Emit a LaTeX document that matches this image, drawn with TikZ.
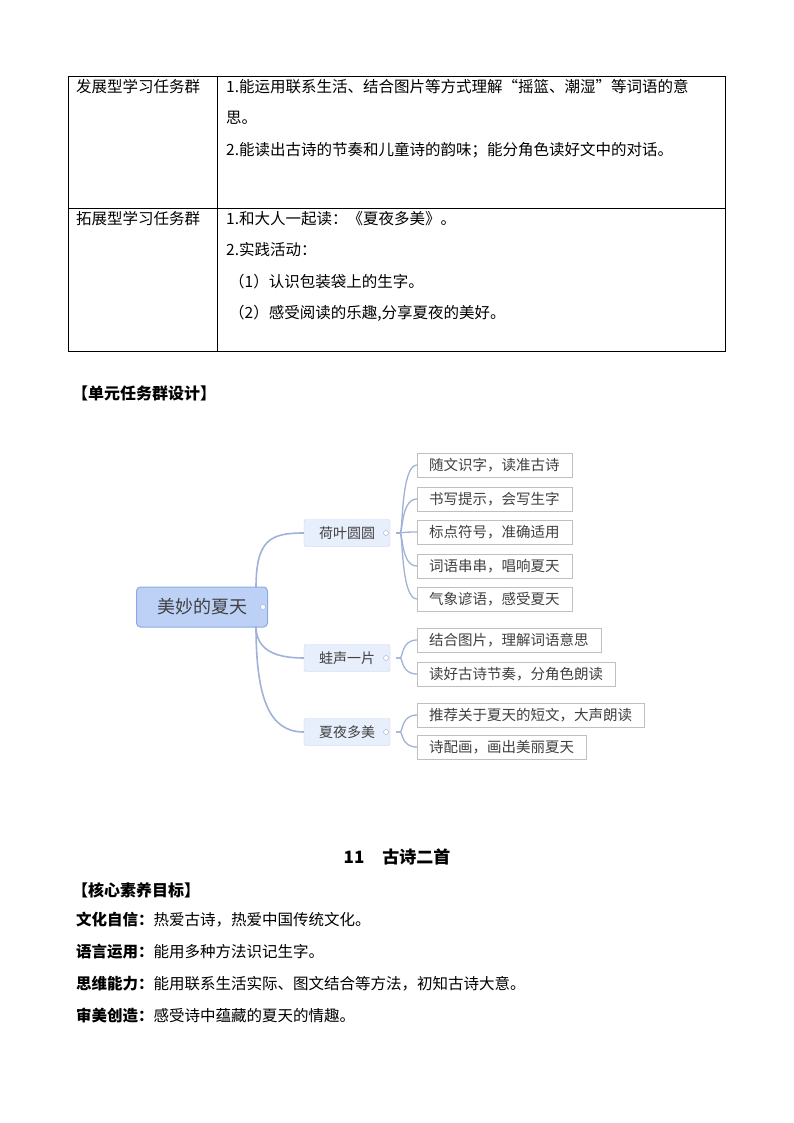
\documentclass[tikz,border=0pt]{standalone}
\usepackage{fontspec}
\setmainfont{Noto Sans CJK SC}
\begin{document}
\begin{tikzpicture}[x=1pt,y=-1pt,
  txt/.style={anchor=west,inner sep=0pt,font=\fontsize{15.5}{16}\selectfont},
  hd/.style={anchor=west,inner sep=0pt,font=\fontsize{16}{16}\selectfont\bfseries},
  central/.style={draw={rgb,255:red,140;green,170;blue,225},line width=1pt,fill={rgb,255:red,189;green,209;blue,247},rounded corners=4pt,minimum width=131,minimum height=40,font=\fontsize{18}{18}\selectfont,text=black!75,inner sep=0pt},
  branch/.style={draw={rgb,255:red,196;green,210;blue,238},fill={rgb,255:red,232;green,239;blue,252},rounded corners=2pt,minimum width=86,minimum height=27,font=\fontsize{14}{14}\selectfont,text=black!75,inner sep=0pt},
  leaf/.style={draw=black!25,fill=white,anchor=west,minimum height=24,inner xsep=12pt,inner ysep=0pt,font=\fontsize{14.5}{14}\selectfont,text=black!75},
  conn/.style={draw={rgb,255:red,160;green,178;blue,216},line width=1.6pt},
  dotc/.style={circle,draw={rgb,255:red,150;green,170;blue,210},fill=white,inner sep=0pt,minimum size=5pt}]
\useasboundingbox (0,0) rectangle (794,1123);
% table
\draw[line width=0.7pt] (68,76) rectangle (725,351);
\draw[line width=0.7pt] (217,76) -- (217,351);
\draw[line width=0.7pt] (68,208) -- (725,208);
\node[txt] (r1a) at (76,87) {发展型学习任务群};
\node[txt] (r1b) at (226,87) {1.能运用联系生活、结合图片等方式理解“摇篮、潮湿”等词语的意};
\node[txt] (r1c) at (226,118) {思。};
\node[txt] (r1d) at (226,150) {2.能读出古诗的节奏和儿童诗的韵味；能分角色读好文中的对话。};
\node[txt] (r2a) at (76,219) {拓展型学习任务群};
\node[txt] (r2b) at (226,219) {1.和大人一起读：《夏夜多美》。};
\node[txt] (r2c) at (226,250) {2.实践活动：};
\node[txt] (r2d) at (229,282) {（1）认识包装袋上的生字。};
\node[txt] (r2e) at (229,313) {（2）感受阅读的乐趣,分享夏夜的美好。};
\node[hd] (h1) at (72,393) {【单元任务群设计】};
% mind map
\node[central] (c) at (202,607) {美妙的夏天\hspace{14pt}};
\node[dotc] (cd) at (263,607) {};
\node[branch] (b1) at (347,533) {荷叶圆圆\hspace{6pt}};
\node[branch] (b2) at (347,658) {蛙声一片\hspace{6pt}};
\node[branch] (b3) at (347,732) {夏夜多美\hspace{6pt}};
\node[leaf] (l1) at (417,465) {随文识字，读准古诗};
\node[leaf] (l2) at (417,499) {书写提示，会写生字};
\node[leaf] (l3) at (417,532) {标点符号，准确适用};
\node[leaf] (l4) at (417,566) {词语串串，唱响夏天};
\node[leaf] (l5) at (417,599) {气象谚语，感受夏天};
\node[leaf] (l6) at (417,640) {结合图片，理解词语意思};
\node[leaf] (l7) at (417,674) {读好古诗节奏，分角色朗读};
\node[leaf] (l8) at (417,715) {推荐关于夏天的短文，大声朗读};
\node[leaf] (l9) at (417,747) {诗配画，画出美丽夏天};
\coordinate (cu) at (256,588);
\coordinate (cl) at (256,626);
\draw[conn] (cu) .. controls (256,540) and (270,533) .. (b1.west);
\draw[conn] (cl) .. controls (256,650) and (275,658) .. (b2.west);
\draw[conn] (cl) .. controls (256,700) and (270,732) .. (b3.west);
\coordinate (j1) at (396,533);
\coordinate (j2) at (396,658);
\coordinate (j3) at (396,732);
\foreach \l in {l1,l2,l3,l4,l5}{\draw[conn,line width=1.3pt] (j1) -- (400,533) .. controls (403,533) and (401,533 |- \l.west) .. (\l.west);}
\foreach \l in {l6,l7}{\draw[conn,line width=1.3pt] (j2) -- (400,658) .. controls (403,658) and (401,658 |- \l.west) .. (\l.west);}
\foreach \l in {l8,l9}{\draw[conn,line width=1.3pt] (j3) -- (400,732) .. controls (403,732) and (401,732 |- \l.west) .. (\l.west);}
\node[dotc] (d1) at (386,533) {};
\node[dotc] (d2) at (386,658) {};
\node[dotc] (d3) at (386,732) {};
% bottom text
\node[inner sep=0pt,font=\fontsize{17}{17}\selectfont\bfseries] (t) at (397,857) {11\hspace{18pt}古诗二首};
\node[hd] (h2) at (72,890) {【核心素养目标】};
\node[txt] (p1) at (76,920) {\textbf{文化自信：}热爱古诗，热爱中国传统文化。};
\node[txt] (p2) at (76,952) {\textbf{语言运用：}能用多种方法识记生字。};
\node[txt] (p3) at (76,984) {\textbf{思维能力：}能用联系生活实际、图文结合等方法，初知古诗大意。};
\node[txt] (p4) at (76,1016) {\textbf{审美创造：}感受诗中蕴藏的夏天的情趣。};
\end{tikzpicture}
\end{document}
